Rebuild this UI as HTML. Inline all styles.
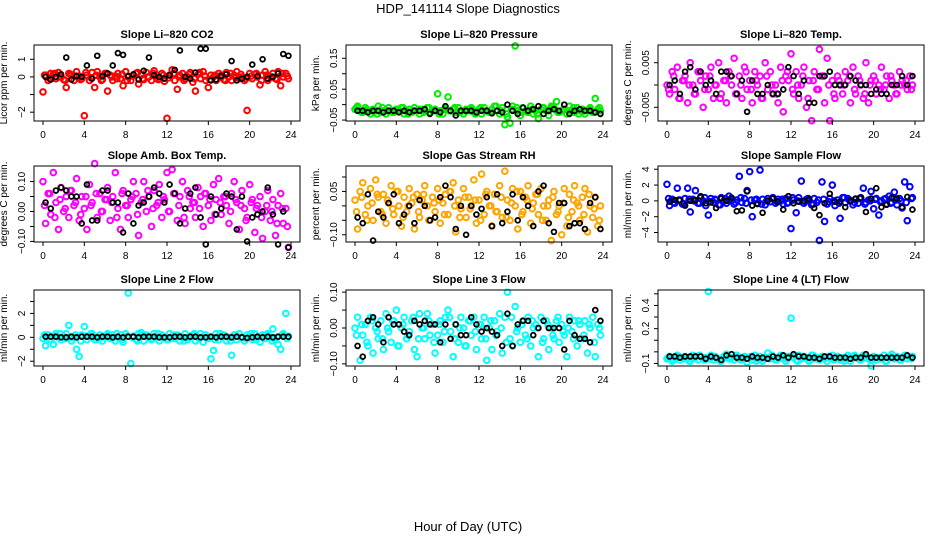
<!DOCTYPE html>
<html><head><meta charset="utf-8"><style>
html,body{margin:0;padding:0;background:#fff;}
svg{display:block;font-family:"Liberation Sans",sans-serif;}
</style></head><body>
<svg id="fig" width="936" height="540" viewBox="0 0 936 540">
<text x="468" y="13" text-anchor="middle" font-size="13">HDP_141114  Slope Diagnostics</text>
<text x="468" y="531" text-anchor="middle" font-size="13">Hour of Day (UTC)</text>
</svg>
<script>
const xTicks=[0,4,8,12,16,20,24];
const c1=[-0.85,0.1,-0.2,0.2,0.15,-0.1,0.25,0.0,-0.15,-0.6,0.2,0.1,-0.2,0.3,0.05,-0.1,-2.2,0.1,-0.2,0.25,-0.6,0.3,0.0,-0.15,0.2,-0.8,0.1,-0.2,0.05,0.2,-0.1,-0.5,0.3,0.0,-0.2,0.1,0.2,-0.4,0.1,-0.15,0.25,0.0,-0.2,0.35,0.1,-0.1,0.2,-0.25,-2.35,0.1,0.4,-0.2,-0.7,0.1,0.2,-0.1,0.0,0.25,-0.3,-0.8,0.15,-0.1,0.3,-0.2,-0.6,0.1,0.0,-0.2,0.2,0.1,-0.15,0.25,0.0,-0.2,0.1,0.3,-0.1,0.0,-0.2,-1.9,0.2,-0.1,0.15,0.0,-0.45,0.1,0.3,-0.2,0.0,0.2,-0.1,0.3,-0.5,0.0,0.2,-0.1];
const d1=[0.1,-0.1,0.2,0.0,-0.2,0.15,0.05,-0.15,0.25,-0.05,0.1,-0.2,0.2,0.0,-0.1,0.15,-0.2,0.05,0.25,-0.1,0.0,0.2,-0.15,0.1,-0.05,0.2,0.0,-0.2,0.15,-0.1,0.25,0.05,-0.15,0.1,0.0,-0.2,0.2,-0.05,0.15,-0.1,0.05,0.2,-0.2,0.1,0.0,-0.15,0.2,0.05];
const b1=[0.0,-0.15,0.0,0.15,1.1,-0.15,0.05,0.0,0.65,-0.1,1.2,0.05,0.2,0.65,1.35,1.25,0.05,0.15,-0.15,0.35,1.1,0.1,0.0,-0.1,0.1,0.4,1.5,0.0,-0.1,0.25,1.6,1.6,-0.2,-0.15,0.05,0.15,0.9,-0.2,-0.1,0.0,0.7,0.05,1.0,-0.1,0.0,0.2,1.3,1.2];
const g2=[-0.015,-0.005,-0.02,-0.025,-0.01,-0.02,-0.03,-0.015,-0.02,-0.005,-0.025,-0.02,-0.03,-0.01,-0.02,-0.025,-0.015,-0.02,-0.01,-0.03,-0.02,-0.015,-0.025,-0.01,-0.02,-0.03,-0.015,-0.02,-0.01,-0.025,-0.02,-0.015,0.035,-0.02,-0.03,-0.01,0.025,-0.02,-0.015,-0.025,-0.01,-0.02,-0.03,-0.015,-0.02,-0.01,-0.025,-0.02,-0.015,-0.03,-0.01,-0.02,-0.025,-0.015,-0.005,-0.02,-0.03,-0.01,-0.065,-0.04,-0.06,-0.005,0.19,-0.02,-0.035,-0.01,-0.02,-0.025,-0.005,-0.03,-0.02,-0.045,-0.015,-0.01,-0.02,-0.035,-0.005,-0.01,0.01,-0.025,-0.02,-0.015,-0.03,-0.005,-0.02,-0.025,-0.01,-0.02,-0.015,-0.03,-0.02,-0.01,-0.025,0.02,-0.015,-0.02];
const d2=[-0.01,-0.025,-0.015,-0.02,-0.03,-0.01,-0.02,-0.025,-0.015,-0.01,-0.03,-0.02,-0.015,-0.025,-0.01,-0.02,-0.03,-0.015,-0.02,-0.01,-0.025,-0.02,-0.015,-0.03,-0.01,-0.02,-0.025,-0.005,-0.02,-0.03,-0.015,-0.01,-0.025,-0.02,-0.015,-0.03,-0.01,-0.02,-0.005,-0.025,-0.015,-0.02,-0.01,-0.03,-0.02,-0.015,-0.025,-0.01];
const b2=[-0.02,-0.02,-0.025,-0.02,-0.02,-0.025,-0.02,-0.02,-0.025,-0.02,-0.025,-0.02,-0.02,-0.015,-0.03,-0.02,-0.025,-0.005,-0.02,-0.035,-0.02,-0.02,-0.02,-0.025,-0.02,-0.02,-0.028,-0.02,-0.025,0.0,-0.02,-0.03,-0.01,-0.02,-0.015,-0.005,-0.03,-0.02,-0.015,-0.02,0.0,-0.03,-0.02,-0.015,-0.02,-0.02,-0.025,-0.03];
const m3=[0.0,-0.002,0.003,-0.001,0.004,-0.003,0.001,0.002,-0.004,0.005,0.0,-0.002,0.003,0.001,-0.005,0.002,-0.001,0.004,-0.003,0.0,0.005,-0.002,0.001,-0.004,0.003,0.0,0.006,-0.002,0.002,-0.003,0.004,-0.001,0.001,-0.004,0.003,0.0,0.002,-0.003,0.005,-0.001,0.003,-0.002,0.0,-0.004,0.004,-0.006,0.002,0.001,0.007,-0.002,0.003,-0.003,0.0,0.004,-0.005,0.001,-0.008,0.003,-0.001,0.008,0.002,-0.004,0.006,-0.008,0.001,-0.003,0.002,0.0,-0.002,0.003,0.001,-0.004,0.004,-0.002,0.002,0.0,-0.003,0.005,-0.004,0.001,0.002,-0.002,0.0,0.004,-0.001,0.002,-0.003,0.001,0.0,-0.002,0.003,0.001,0.0,-0.001,0.002,0.0];
const d3=[-0.001,0.002,-0.003,0.001,0.0,-0.002,0.003,-0.001,0.002,0.0,-0.003,0.001,0.002,-0.002,0.0,0.003,-0.001,0.001,-0.003,0.002,0.0,-0.002,0.001,0.003,-0.001,0.0,0.002,-0.003,0.001,-0.001,0.002,0.0,-0.002,0.001,0.0,0.002,-0.001,0.001,-0.002,0.0,0.001,-0.001,0.0,0.002,-0.002,0.0,0.001,-0.001];
const b3=[0.0,0.001,-0.002,0.003,0.004,-0.001,0.003,0.0,0.001,-0.002,0.003,0.003,0.002,-0.002,0.001,-0.006,0.001,-0.002,-0.002,0.0,-0.002,-0.002,-0.001,0.004,0.002,-0.002,0.001,-0.004,-0.004,0.002,0.002,0.003,0.0,0.0,0.0,0.002,0.001,0.0,0.0,-0.002,-0.001,-0.002,-0.002,0.0,0.0,0.002,0.0,0.002];
const m4=[0.1,-0.04,0.06,-0.01,0.13,0.03,-0.06,0.08,0.0,0.05,-0.02,0.07,0.02,0.11,-0.03,0.05,0.01,-0.06,0.09,0.03,0.16,-0.02,0.06,0.0,0.04,0.08,-0.03,0.05,0.13,0.01,-0.06,0.07,0.02,-0.02,0.04,0.1,0.06,-0.08,0.03,0.1,0.0,0.05,-0.05,0.07,0.02,0.09,-0.02,0.04,0.13,0.0,0.14,0.06,-0.03,0.05,0.1,-0.04,0.07,0.01,0.03,-0.02,0.08,0.05,-0.05,0.06,0.02,-0.03,0.09,0.04,0.11,-0.01,0.05,0.02,-0.04,0.06,0.1,0.03,-0.06,0.07,0.01,-0.02,0.09,0.04,-0.07,0.02,0.05,-0.09,0.0,0.07,-0.03,0.04,-0.08,0.02,0.06,-0.04,0.01,-0.12];
const d4=[0.02,0.06,-0.02,0.04,0.01,0.07,0.03,-0.01,0.05,0.02,0.06,0.0,0.04,0.03,-0.02,0.06,0.02,0.05,-0.01,0.04,0.07,0.01,0.03,0.05,0.0,0.06,0.02,-0.02,0.05,0.03,0.01,0.06,0.04,-0.01,0.03,0.05,0.0,0.04,0.02,-0.03,0.03,0.01,-0.02,0.02,0.0,-0.04,0.01,-0.05];
const b4=[0.03,0.01,0.07,0.08,0.07,0.05,0.05,-0.04,0.09,-0.03,-0.03,0.07,0.07,0.03,0.03,-0.07,0.06,-0.04,0.02,0.03,0.05,0.08,0.06,0.03,0.09,0.06,-0.04,0.01,0.06,0.08,-0.02,-0.11,0.05,-0.01,0.01,0.06,0.05,-0.06,0.05,-0.1,-0.02,-0.01,0.0,0.08,-0.01,-0.11,0.0,-0.12];
const o5=[0.02,-0.08,0.05,0.08,-0.03,0.0,0.06,-0.05,0.09,0.03,-0.02,0.04,-0.06,0.01,0.07,-0.03,0.05,0.0,-0.07,0.03,-0.02,0.06,0.01,-0.08,0.04,-0.04,0.02,0.07,0.0,-0.05,0.03,-0.02,0.06,-0.06,0.01,0.04,-0.03,0.05,0.08,-0.09,0.02,-0.01,0.06,-0.04,0.03,0.0,0.09,-0.06,0.02,0.11,-0.03,0.05,0.0,-0.07,0.04,-0.02,0.07,-0.04,0.12,0.02,-0.05,0.06,0.0,-0.08,0.05,-0.02,0.03,0.07,-0.06,0.01,0.04,-0.03,0.06,0.0,-0.05,0.02,-0.12,0.05,-0.03,0.0,-0.1,0.06,-0.07,0.04,-0.02,0.07,0.01,-0.05,0.03,0.06,-0.09,0.0,-0.04,0.03,-0.07,0.0];
const d5=[-0.02,0.03,-0.05,0.01,0.04,-0.03,0.02,-0.01,0.05,-0.04,0.0,0.03,-0.02,0.04,-0.05,0.01,0.02,-0.03,0.05,0.0,-0.04,0.03,-0.01,0.02,-0.05,0.04,0.0,-0.02,0.03,-0.04,0.01,0.05,-0.03,0.02,-0.01,0.04,-0.05,0.0,0.03,-0.02,0.01,-0.04,0.02,0.0,-0.03,0.04,-0.01,-0.05];
const b5=[-0.04,-0.06,0.04,-0.12,-0.02,-0.04,0.01,0.04,-0.06,-0.03,0.0,-0.06,0.02,0.0,-0.05,-0.04,0.03,0.07,0.03,-0.08,0.0,-0.1,0.0,-0.03,-0.01,0.03,-0.07,0.04,-0.06,-0.02,0.04,-0.05,0.03,0.0,-0.07,0.05,0.07,-0.06,-0.09,0.01,0.01,-0.07,-0.06,-0.06,-0.08,0.01,0.03,-0.08];
const bl6=[2.1,-0.6,0.2,-0.3,1.6,0.1,-0.4,0.3,1.6,-1.4,0.2,1.3,-0.3,0.4,0.0,-0.6,-1.8,0.3,-0.2,0.1,-0.5,0.4,0.0,-0.3,0.6,0.2,-0.4,0.1,3.1,-0.2,0.3,1.3,3.7,-2.0,0.1,-0.3,3.9,0.2,-0.5,0.3,-0.1,0.4,-0.3,0.2,0.0,-0.4,0.3,-0.2,-3.5,0.1,-1.5,0.4,2.5,-0.3,0.2,0.0,-0.5,0.3,-0.2,-5.0,2.4,-2.6,-0.4,0.3,2.0,-0.6,0.1,-2.2,0.4,-0.2,0.3,0.0,-0.5,0.2,-0.3,0.4,1.6,-0.2,0.1,1.2,-1.0,0.3,-1.8,0.0,0.2,-0.4,0.6,-0.2,1.1,-0.5,0.3,-0.9,2.4,-2.5,1.8,0.4];
const d6=[0.3,-0.2,0.1,-0.4,0.2,0.0,-0.3,0.4,-0.1,0.2,-0.5,0.3,0.0,-0.2,0.4,-0.3,0.1,0.2,-0.4,0.0,0.3,-0.1,0.2,-0.3,0.4,0.0,-0.2,0.3,-0.4,0.1,0.2,-0.1,0.0,-0.3,0.4,0.1,-0.2,0.3,-0.4,0.0,0.2,-0.1,0.3,-0.3,0.1,0.0,-0.2,0.3];
const b6=[-0.1,0.1,0.1,-0.6,0.0,0.1,0.6,-0.3,-0.2,-0.9,0.3,0.0,0.4,-1.3,-1.2,1.2,-0.6,-0.4,-1.5,0.0,0.3,-0.1,-1.1,0.6,-0.3,-0.1,0.0,0.2,-0.9,-1.8,-0.3,0.9,-0.1,-0.1,-0.8,0.0,0.3,0.4,-1.4,0.3,1.6,-0.8,-0.5,0.4,0.3,-0.8,0.5,-1.1];
const c7=[-0.1,-0.7,0.2,-0.2,-0.6,0.3,0.0,-0.2,0.1,0.3,1.0,-0.3,0.0,-1.0,-1.6,0.2,0.9,-0.2,0.1,0.3,-0.2,0.0,0.2,-0.3,0.1,0.3,-0.1,0.2,-0.3,0.0,0.2,-0.4,0.3,3.7,-2.2,0.1,-0.2,0.3,0.4,-0.3,0.2,0.0,-0.2,0.3,0.1,-0.3,0.2,0.0,-0.2,0.3,0.1,-0.1,0.2,-0.3,0.0,0.3,-0.2,0.1,0.2,-0.3,0.0,0.3,-0.4,0.2,-0.1,-1.8,-1.1,0.3,-0.2,0.1,0.2,-0.3,0.0,-1.5,0.2,-0.2,0.3,0.0,-0.3,0.2,0.1,-0.2,0.3,0.0,-0.4,0.2,-0.1,0.3,0.0,0.7,-0.2,-0.6,-1.0,0.3,2.0,0.1];
const d7=[0.2,-0.2,0.1,0.3,-0.1,0.0,0.2,-0.3,0.1,0.3,-0.2,0.0,0.2,-0.1,0.3,-0.2,0.1,0.0,-0.3,0.2,0.1,-0.1,0.3,0.0,-0.2,0.2,0.1,-0.3,0.0,0.3,-0.1,0.2,0.0,-0.2,0.3,0.1,-0.3,0.2,0.0,-0.1,0.3,-0.2,0.1,0.2,-0.3,0.0,0.2,-0.1];
const b7=[0.05,0.05,0.05,0.0,0.0,0.05,0.0,0.05,0.05,0.05,0.0,0.05,0.05,0.0,0.05,0.0,0.05,0.05,0.0,0.05,0.05,0.05,0.0,0.0,0.0,0.05,0.05,0.0,0.05,0.05,0.0,0.0,0.05,0.0,0.05,0.05,0.0,0.05,0.0,-0.05,0.0,0.05,0.0,0.05,0.0,0.05,0.05,0.05];
const c8=[0.0,0.03,-0.09,-0.02,0.01,-0.05,0.03,-0.07,0.0,-0.03,0.02,-0.06,0.04,-0.01,-0.04,0.02,0.05,-0.05,0.0,0.03,-0.03,-0.01,0.02,-0.06,-0.08,0.04,0.0,-0.03,0.04,-0.02,0.01,-0.07,-0.02,0.02,-0.04,0.03,0.05,-0.01,-0.08,0.01,-0.04,0.03,0.0,-0.05,0.02,-0.02,0.03,-0.06,0.01,-0.03,0.03,-0.09,0.0,-0.06,0.02,-0.01,0.04,-0.07,0.03,0.1,-0.03,-0.05,0.06,0.0,-0.04,0.02,-0.02,0.03,-0.05,0.0,0.01,-0.08,0.03,-0.03,0.02,-0.06,0.0,-0.03,0.02,-0.04,0.01,-0.02,-0.08,0.03,-0.01,0.02,-0.05,0.01,-0.03,0.02,-0.07,0.0,0.03,-0.08,0.01,-0.02];
const d8=[-0.02,0.01,-0.04,0.02,-0.01,-0.03,0.0,0.02,-0.05,0.01,-0.02,0.03,-0.03,0.0,0.02,-0.04,0.01,-0.01,0.03,-0.03,0.0,-0.05,0.02,-0.01,0.01,-0.03,0.02,-0.02,0.0,-0.04,0.03,-0.01,0.01,-0.03,0.02,0.0,-0.04,0.01,-0.02,0.03,-0.01,0.0,-0.03,0.02,-0.02,0.01,-0.04,0.0];
const b8=[-0.05,-0.08,0.02,0.03,0.01,-0.04,0.03,0.01,0.01,-0.01,-0.02,0.02,0.01,0.02,0.01,0.01,-0.04,0.01,-0.03,0.01,-0.02,-0.02,0.03,0.01,-0.01,0.0,-0.01,-0.02,-0.05,0.04,-0.05,0.01,0.02,0.02,-0.02,0.0,0.02,0.0,0.0,0.0,-0.06,0.02,-0.02,-0.03,-0.03,-0.04,0.05,0.02];
const c9=[-0.06,-0.04,-0.08,-0.05,-0.03,-0.07,-0.05,-0.04,-0.06,-0.08,-0.03,-0.05,-0.07,-0.04,-0.06,-0.05,0.52,-0.03,-0.07,-0.05,-0.06,-0.08,-0.04,-0.02,-0.06,-0.05,-0.07,-0.03,-0.05,-0.06,-0.04,-0.09,-0.05,-0.07,-0.03,-0.06,-0.04,-0.08,-0.05,-0.01,-0.06,-0.04,-0.07,-0.05,-0.03,-0.06,-0.08,-0.04,0.29,-0.05,-0.07,-0.03,-0.06,-0.04,-0.05,-0.08,-0.03,-0.06,-0.05,-0.07,-0.04,-0.06,-0.08,-0.05,-0.03,-0.06,-0.04,-0.07,-0.05,-0.06,-0.03,-0.08,-0.05,-0.04,-0.06,-0.07,-0.03,-0.05,-0.06,-0.12,-0.04,-0.07,-0.05,-0.06,-0.03,-0.08,-0.05,-0.02,-0.06,-0.04,-0.07,-0.05,-0.03,-0.06,-0.05,-0.04];
const d9=[-0.05,-0.07,-0.04,-0.06,-0.08,-0.05,-0.03,-0.07,-0.06,-0.04,-0.08,-0.05,-0.06,-0.03,-0.07,-0.05,-0.04,-0.08,-0.06,-0.05,-0.03,-0.07,-0.05,-0.06,-0.04,-0.08,-0.05,-0.07,-0.03,-0.06,-0.05,-0.04,-0.07,-0.06,-0.08,-0.05,-0.03,-0.06,-0.04,-0.07,-0.05,-0.06,-0.08,-0.04,-0.05,-0.07,-0.03,-0.06];
const b9=[-0.04,-0.04,-0.05,-0.04,-0.04,-0.04,-0.04,-0.06,-0.04,-0.05,-0.07,-0.03,-0.02,-0.05,-0.05,-0.06,-0.04,-0.05,-0.05,-0.06,-0.04,-0.05,-0.03,-0.05,-0.02,-0.04,-0.04,-0.05,-0.05,-0.06,-0.04,-0.04,-0.05,-0.05,-0.05,-0.06,-0.05,-0.05,-0.02,-0.05,-0.05,-0.05,-0.05,-0.05,-0.05,-0.05,-0.03,-0.05];

const panels=[
 {t:"Slope Li\u2013820 CO2",yl:"Licor ppm per min.",d:[-2.5,1.81],tk:[-2,-1,0,1],lb:{"-2":"\u22122","0":"0","1":"1"},col:"#ff0000",c:c1,e:d1,b:b1},
 {t:"Slope Li\u2013820 Pressure",yl:"kPa per min.",d:[-0.053,0.193],tk:[-0.05,0,0.05,0.1,0.15],lb:{"-0.05":"\u22120.05","0.05":"0.05","0.15":"0.15"},col:"#00ee00",c:g2,e:d2,b:b2},
 {t:"Slope Li\u2013820 Temp.",yl:"degrees C per min.",d:[-0.00807,0.00897],tk:[-0.005,0,0.005],lb:{"-0.005":"\u22120.005","0.005":"0.005"},col:"#ff00ff",c:m3,e:d3,b:b3},
 {t:"Slope Amb. Box Temp.",yl:"degrees C per min.",d:[-0.102,0.152],tk:[-0.1,-0.05,0,0.05,0.1],lb:{"-0.1":"\u22120.10","0":"0.00","0.1":"0.10"},col:"#ff00ff",c:m4,e:d4,b:b4},
 {t:"Slope Gas Stream RH",yl:"percent per min.",d:[-0.125,0.138],tk:[-0.1,-0.05,0,0.05,0.1],lb:{"-0.1":"\u22120.10","0.05":"0.05"},col:"#ffa500",c:o5,e:d5,b:b5},
 {t:"Slope Sample Flow",yl:"ml/min per min.",d:[-5.2,4.41],tk:[-4,-2,0,2,4],lb:{"-4":"\u22124","-2":"\u22122","0":"0","2":"2","4":"4"},col:"#0000ff",c:bl6,e:d6,b:b6},
 {t:"Slope Line 2 Flow",yl:"ml/min per min.",d:[-2.4,3.96],tk:[-2,-1,0,1,2,3],lb:{"-2":"\u22122","0":"0","2":"2"},col:"#00ffff",c:c7,e:d7,b:b7},
 {t:"Slope Line 3 Flow",yl:"ml/min per min.",d:[-0.106,0.106],tk:[-0.1,-0.05,0,0.05,0.1],lb:{"-0.1":"\u22120.10","0":"0.00","0.1":"0.10"},col:"#00ffff",c:c8,e:d8,b:b8},
 {t:"Slope Line 4 (LT) Flow",yl:"ml/min per min.",d:[-0.122,0.533],tk:[-0.1,0,0.1,0.2,0.3,0.4,0.5],lb:{"-0.1":"\u22120.1","0.2":"0.2","0.4":"0.4"},col:"#00ffff",c:c9,e:d9,b:b9}
];
const NS="http://www.w3.org/2000/svg";
const svg=document.getElementById('fig');
function mk(tag,attrs,parent){const e=document.createElementNS(NS,tag);for(const k in attrs)e.setAttribute(k,attrs[k]);(parent||svg).appendChild(e);return e;}
const colX=[34,346,658],rowY=[45,166,290],W=266,H=76,X0=-0.87,X1=24.87;
panels.forEach((p,i)=>{
 const L=colX[i%3],T=rowY[Math.floor(i/3)];
 const g=mk('g',{});
 
 
 const xs=v=>L+(v-X0)/(X1-X0)*W;
 const ys=v=>T+H-(v-p.d[0])/(p.d[1]-p.d[0])*H;
 const tt=mk('text',{x:L+W/2,y:T-7,'text-anchor':'middle','font-size':'11','font-weight':'bold'},g);tt.textContent=p.t;
 
 
 const cx=L-27,cy=T+H/2;
 const yt=mk('text',{x:cx,y:cy,'text-anchor':'middle','font-size':'10',transform:`rotate(-90 ${cx} ${cy})`},g);yt.textContent=p.yl;
 
 
 const pts=mk('g',{fill:'none'},g);
 
 
 p.c.forEach((v,k)=>{const c=mk('circle',{cx:xs(k*24/p.c.length),cy:ys(v),r:2.8,stroke:p.col,'stroke-width':'2'},pts);
  
  });
 p.e.forEach((v,k)=>{const c=mk('circle',{cx:xs((k+0.3)*24/p.e.length),cy:ys(v),r:2.8,stroke:p.col,'stroke-width':'2'},pts);
  
  });
 p.b.forEach((v,k)=>{const c=mk('circle',{cx:xs((k+0.5)*24/p.b.length),cy:ys(v),r:2.4,stroke:'#000','stroke-width':'1.8'},pts);
  
  });
 const bx=mk('rect',{x:L,y:T,width:W,height:H,fill:'none',stroke:'#000','stroke-width':'1'},g);
 
 
 xTicks.forEach(v=>{const x=xs(v);mk('line',{x1:x,x2:x,y1:T+H,y2:T+H+4,stroke:'#000'},g);
  const t=mk('text',{x:x,y:T+H+17,'text-anchor':'middle','font-size':'10'},g);t.textContent=v;
  
  });
 p.tk.forEach(v=>{const y=ys(v);mk('line',{x1:L-4,x2:L,y1:y,y2:y,stroke:'#000'},g);
  const s=p.lb[String(v)];if(s){const tx=L-9;const t=mk('text',{x:tx,y:y,'text-anchor':'middle','font-size':'10',transform:`rotate(-90 ${tx} ${y})`},g);t.textContent=s;
  
  }});
});
</script>
</body></html>
